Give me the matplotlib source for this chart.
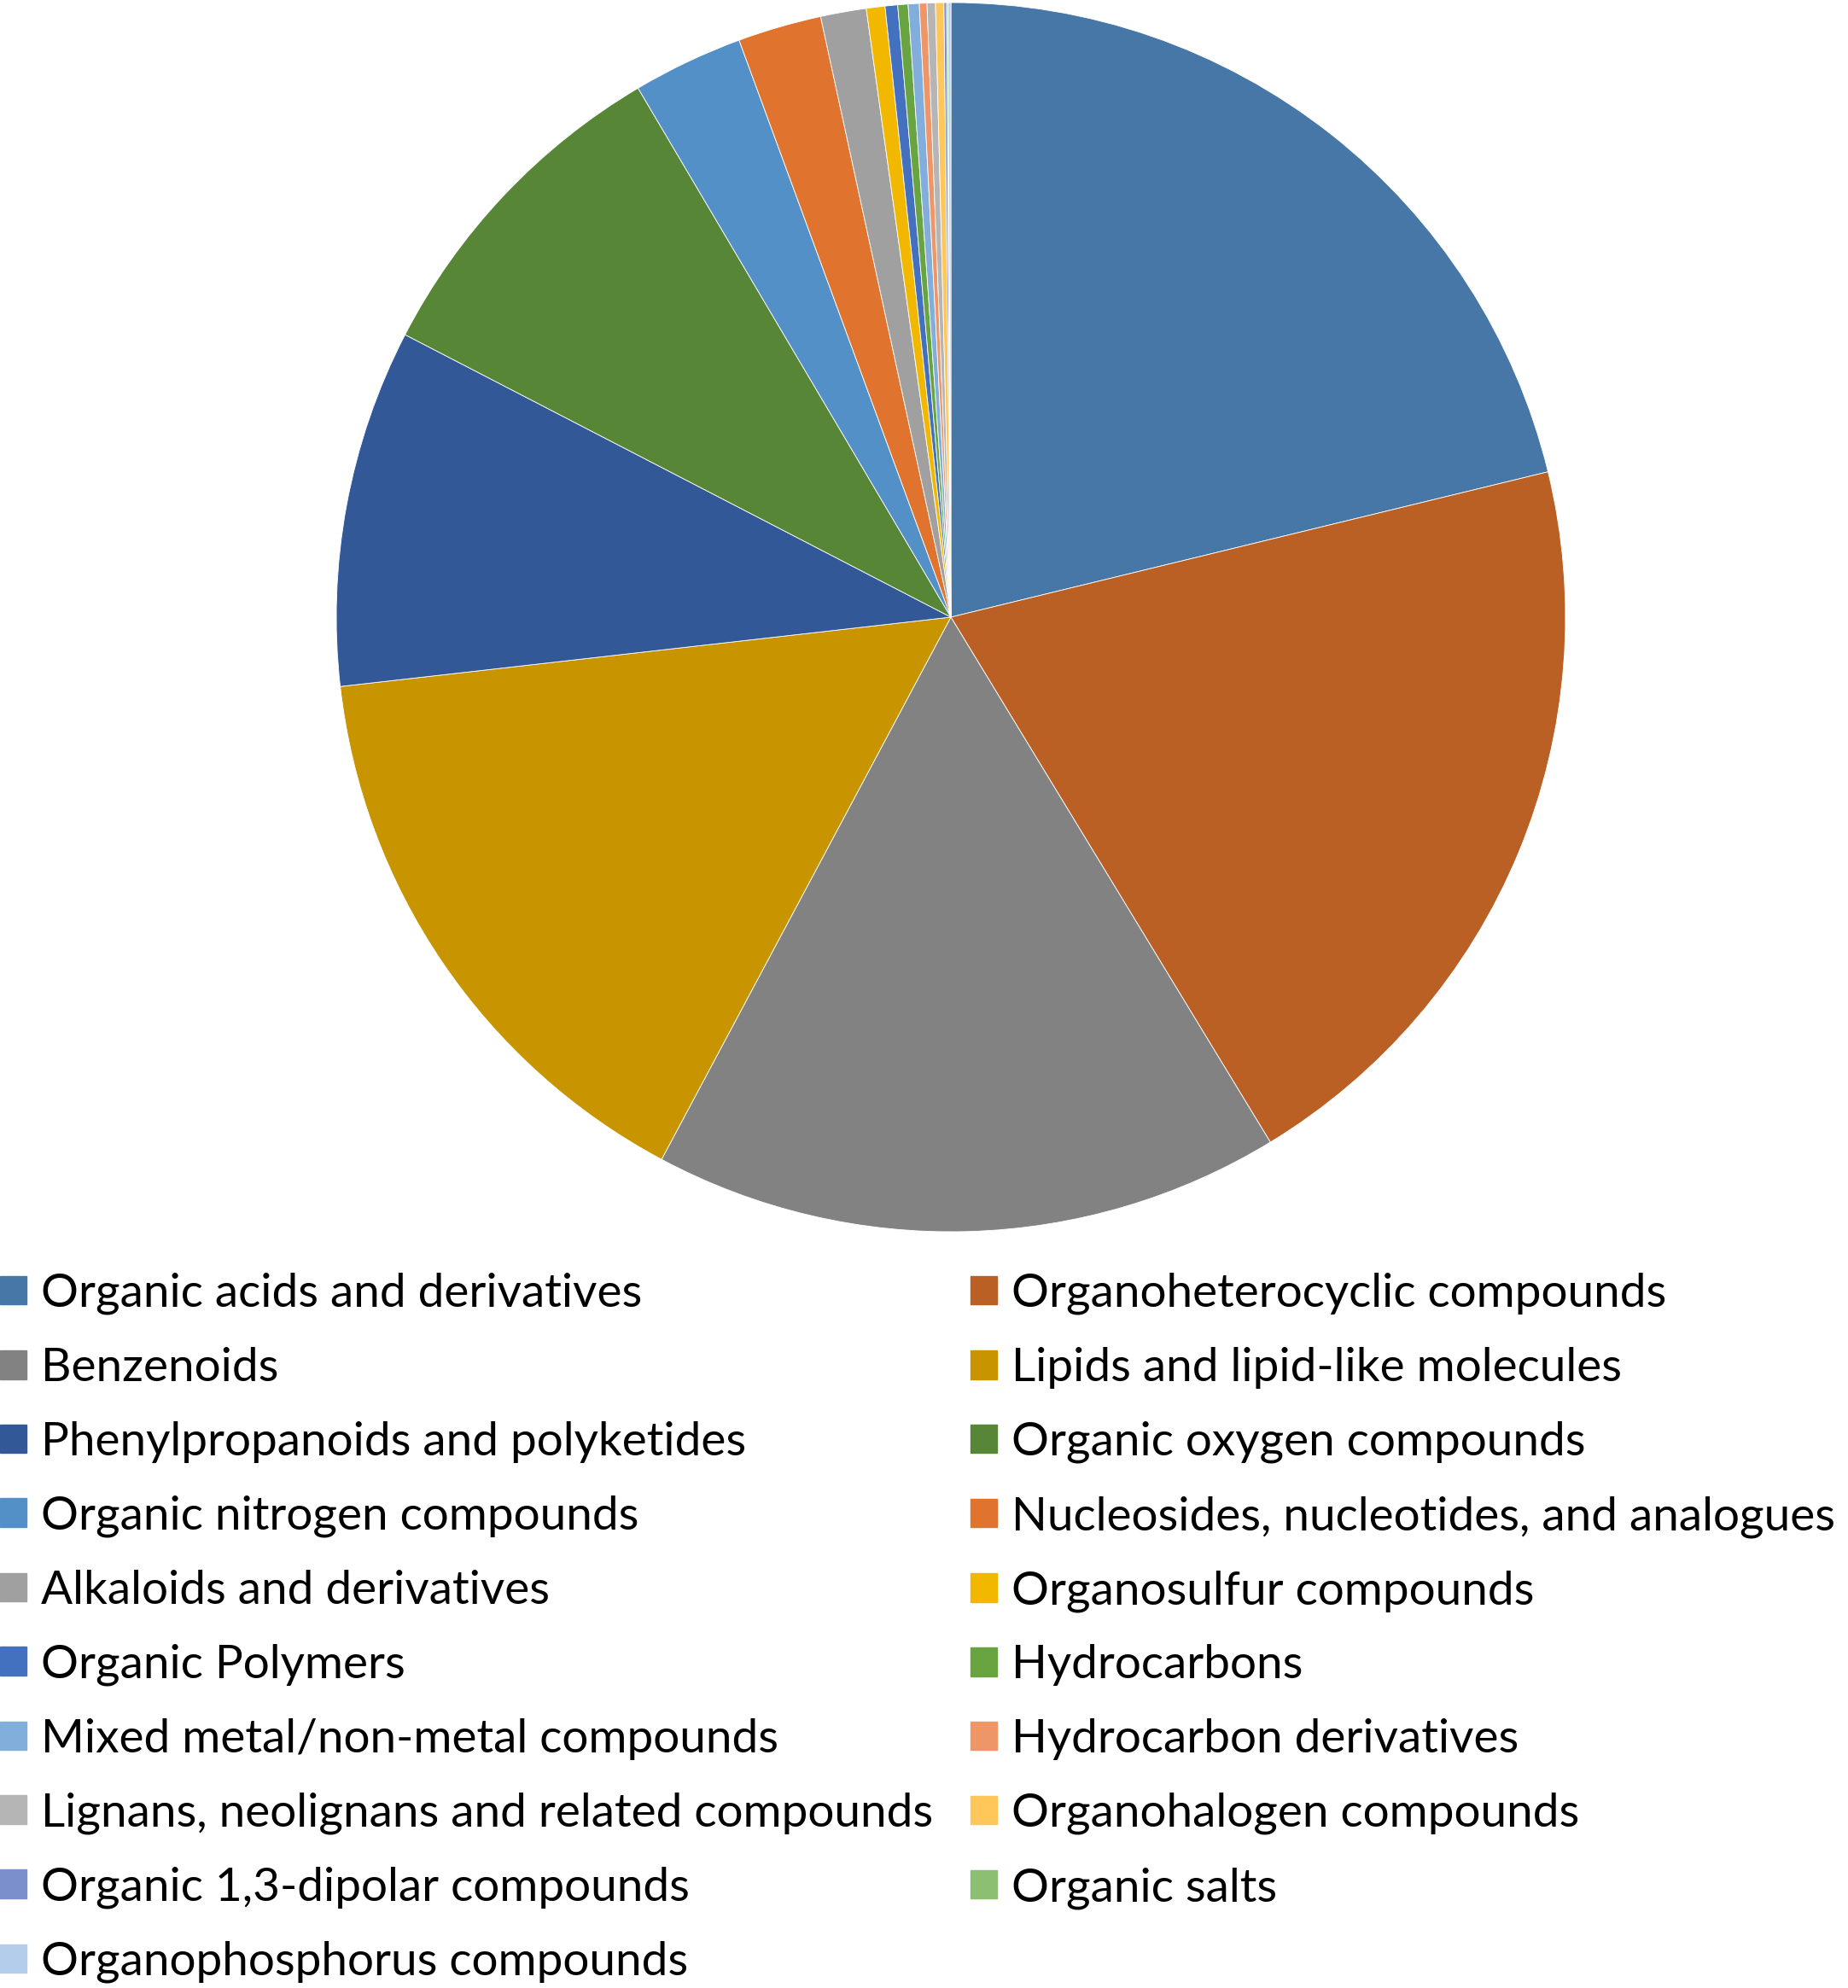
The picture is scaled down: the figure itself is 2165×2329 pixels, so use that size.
import matplotlib
matplotlib.use("Agg")
import matplotlib.pyplot as plt
import matplotlib.patches as mpatches

# class shares (percent), clockwise from 12 o'clock
labels = [
    "Organic acids and derivatives",
    "Organoheterocyclic compounds",
    "Benzenoids",
    "Lipids and lipid-like molecules",
    "Phenylpropanoids and polyketides",
    "Organic oxygen compounds",
    "Organic nitrogen compounds",
    "Nucleosides, nucleotides, and analogues",
    "Alkaloids and derivatives",
    "Organosulfur compounds",
    "Organic Polymers",
    "Hydrocarbons",
    "Mixed metal/non-metal compounds",
    "Hydrocarbon derivatives",
    "Lignans, neolignans and related compounds",
    "Organohalogen compounds",
    "Organic 1,3-dipolar compounds",
    "Organic salts",
    "Organophosphorus compounds",
]
shares = [21.2, 20.1, 16.5, 15.4, 9.4, 8.9, 2.9, 2.2, 1.2, 0.49,
          0.33, 0.27, 0.29, 0.20, 0.22, 0.22, 0.07, 0.04, 0.07]
colors = ["#4677A7", "#BA6025", "#828282", "#C89400", "#325898", "#588637",
          "#5490C8", "#E0742E", "#A0A0A0", "#F2B800", "#4470C0", "#68A440",
          "#82AEDC", "#EE9668", "#B5B5B5", "#FFC75A", "#7A8FCB", "#8CBF72",
          "#B4CDEB"]

W, H = 2165, 2329
fig = plt.figure(figsize=(W / 100, H / 100), dpi=100)

# pie: center (1114, 723) px, radius 720 px
cx, cy, r = 1114, 723, 720
ax = fig.add_axes([(cx - r) / W, (H - cy - r) / H, 2 * r / W, 2 * r / H])
ax.pie(shares, colors=colors, startangle=90, counterclock=False,
       wedgeprops=dict(edgecolor="white", linewidth=0.6))
ax.set_xlim(-1, 1)
ax.set_ylim(-1, 1)
ax.set_aspect("equal")
ax.axis("off")

# legend is filled row by row in the original, matplotlib fills by column
handles = [mpatches.Patch(color=c, label=l) for c, l in zip(colors, labels)]
order = list(range(0, len(labels), 2)) + list(range(1, len(labels), 2))
fig.legend([handles[i] for i in order], [labels[i] for i in order],
           ncol=2, loc="upper left", bbox_to_anchor=(0.0, 1 - 1491 / H),
           frameon=False, borderpad=0, borderaxespad=0,
           prop=dict(family="Lato", size=39.5),
           handlelength=0.56, handleheight=0.56, handletextpad=0.31,
           labelspacing=0.687, columnspacing=0.81)

fig.savefig("out.png", dpi=100, facecolor="white")
